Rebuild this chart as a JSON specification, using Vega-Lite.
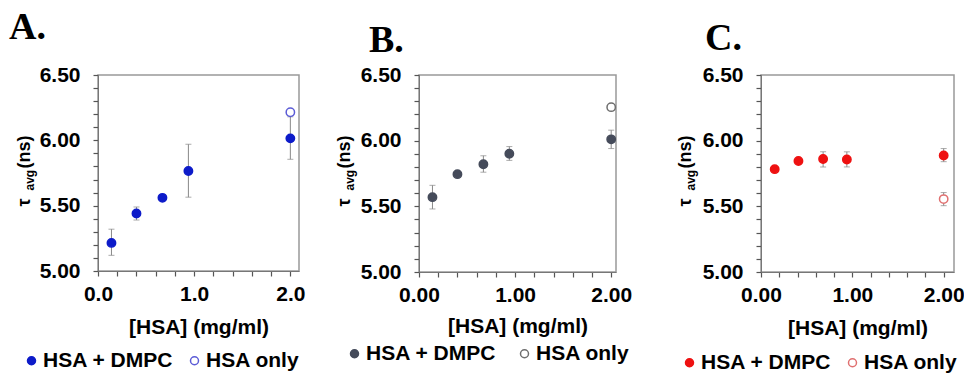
{
  "$schema": "https://vega.github.io/schema/vega-lite/v6.json",
  "padding": {"left": 8, "top": 8, "right": 2, "bottom": 4},
  "background": "white",
  "config": {
    "view": {"stroke": "#999", "strokeWidth": 1.5},
    "axis": {"labelFont": "Liberation Sans", "labelFontWeight": "bold", "labelFontSize": 21, "labelColor": "#000",
             "titleFont": "Liberation Sans", "titleFontWeight": "bold", "titleFontSize": 21, "titleColor": "#000",
             "domainColor": "#777", "tickColor": "#555", "tickSize": 5, "tickWidth": 1.2, "ticks": true, "grid": false,
             "labelOverlap": false, "labelFlush": false, "labelBound": false},
    "legend": {"labelFont": "Liberation Sans", "labelFontWeight": "bold", "labelFontSize": 21, "labelColor": "#000"},
    "title": {"font": "Liberation Serif", "fontWeight": "bold", "fontSize": 38, "color": "#000", "anchor": "start", "frame": "group", "baseline": "alphabetic"}
  },
  "datasets": {
    "a": [
      {"conc": 0.14, "tau": 5.215, "lo": 5.12, "hi": 5.32, "series": "HSA + DMPC"},
      {"conc": 0.40, "tau": 5.44, "lo": 5.39, "hi": 5.49, "series": "HSA + DMPC"},
      {"conc": 0.67, "tau": 5.56, "lo": 5.54, "hi": 5.58, "series": "HSA + DMPC"},
      {"conc": 0.94, "tau": 5.765, "lo": 5.565, "hi": 5.97, "series": "HSA + DMPC"},
      {"conc": 2.0, "tau": 6.015, "lo": 5.855, "hi": 6.18, "series": "HSA + DMPC"},
      {"conc": 2.0, "tau": 6.215, "lo": null, "hi": null, "series": "HSA only"}
    ],
    "b": [
      {"conc": 0.14, "tau": 5.57, "lo": 5.48, "hi": 5.66, "series": "HSA + DMPC"},
      {"conc": 0.40, "tau": 5.745, "lo": 5.73, "hi": 5.76, "series": "HSA + DMPC"},
      {"conc": 0.67, "tau": 5.82, "lo": 5.76, "hi": 5.885, "series": "HSA + DMPC"},
      {"conc": 0.94, "tau": 5.9, "lo": 5.85, "hi": 5.955, "series": "HSA + DMPC"},
      {"conc": 2.0, "tau": 6.01, "lo": 5.94, "hi": 6.08, "series": "HSA + DMPC"},
      {"conc": 2.0, "tau": 6.255, "lo": null, "hi": null, "series": "HSA only"}
    ],
    "c": [
      {"conc": 0.15, "tau": 5.783, "lo": 5.77, "hi": 5.8, "series": "HSA + DMPC"},
      {"conc": 0.41, "tau": 5.845, "lo": 5.83, "hi": 5.86, "series": "HSA + DMPC"},
      {"conc": 0.68, "tau": 5.86, "lo": 5.8, "hi": 5.915, "series": "HSA + DMPC"},
      {"conc": 0.94, "tau": 5.857, "lo": 5.8, "hi": 5.915, "series": "HSA + DMPC"},
      {"conc": 2.0, "tau": 5.887, "lo": 5.84, "hi": 5.94, "series": "HSA + DMPC"},
      {"conc": 2.0, "tau": 5.555, "lo": 5.505, "hi": 5.605, "series": "HSA only"}
    ]
  },
  "spacing": 28,
  "resolve": {
    "scale": {"x": "independent", "y": "independent", "fill": "independent", "stroke": "independent"},
    "axis": {"x": "independent", "y": "independent"},
    "legend": {"fill": "independent", "stroke": "independent"}
  },
  "hconcat": [
    {
      "width": 201, "height": 196,
      "title": {"text": "A.", "dx": -89, "offset": 17},
      "data": {"name": "a"},
      "resolve": {"axis": {"y": "independent"}},
      "encoding": {
        "x": {"field": "conc", "type": "quantitative", "scale": {"domain": [0, 2.09], "nice": false, "zero": false},
              "axis": {"values": [0, 0.2, 0.4, 0.6, 0.8, 1.0, 1.2, 1.4, 1.6, 1.8, 2.0], "labelExpr": "abs(datum.value - round(datum.value)) < 0.01 ? format(datum.value, '.1f') : ''", "title": "[HSA] (mg/ml)", "labelPadding": 7, "titlePadding": 12, "labelOverlap": false, "labelFlush": false, "labelBound": false, "ticks": true, "tickSize": 5}}
      },
      "layer": [
        {
          "mark": {"type": "rule", "color": "#888", "strokeWidth": 1},
          "encoding": {
            "y": {"field": "lo", "type": "quantitative", "scale": {"domain": [5, 6.5], "nice": false, "zero": false},
                  "axis": {"orient": "left", "title": "avg", "labels": false, "ticks": false, "domain": false, "titleFontSize": 12, "titleAngle": 270, "titleAlign": "left", "titleBaseline": "alphabetic", "titleX": -65, "titleY": 115}},
            "y2": {"field": "hi"}
          }
        },
        {
          "mark": {"type": "tick", "orient": "horizontal", "size": 6, "thickness": 1, "color": "#888"},
          "encoding": {"y": {"field": "lo", "type": "quantitative", "axis": null}}
        },
        {
          "mark": {"type": "tick", "orient": "horizontal", "size": 6, "thickness": 1, "color": "#888"},
          "encoding": {"y": {"field": "hi", "type": "quantitative", "axis": null}}
        },
        {
          "mark": {"type": "point", "size": 70, "strokeWidth": 1.5, "opacity": 1},
          "encoding": {
            "y": {"field": "tau", "type": "quantitative",
                  "axis": {"orient": "left", "values": [5, 5.1, 5.2, 5.3, 5.4, 5.5, 5.6, 5.7, 5.8, 5.9, 6, 6.1, 6.2, 6.3, 6.4, 6.5], "labelExpr": "round(datum.value*10) % 5 == 0 ? format(datum.value, '.2f') : ''", "labelPadding": 13, "labelOverlap": false, "ticks": true, "tickSize": 5,
                           "title": "τ\u00a0\u00a0\u00a0\u00a0\u00a0\u00a0(ns)", "titleFontSize": 18, "titleAngle": 270, "titleAlign": "left", "titleBaseline": "alphabetic", "titleX": -69, "titleY": 131}},
            "fill": {"field": "series", "type": "nominal", "scale": {"domain": ["HSA + DMPC", "HSA only"], "range": ["#0d1bc9", "#ffffff"]},
                     "legend": {"orient": "none", "legendX": -77, "legendY": 275, "direction": "horizontal", "title": null, "padding": 0, "symbolSize": 64, "symbolStrokeWidth": 1.5, "labelOffset": 1, "columnPadding": 10}},
            "stroke": {"field": "series", "type": "nominal", "scale": {"domain": ["HSA + DMPC", "HSA only"], "range": ["#0d1bc9", "#5b5bd6"]},
                     "legend": {"orient": "none", "legendX": -77, "legendY": 275, "direction": "horizontal", "title": null, "padding": 0, "symbolSize": 64, "symbolStrokeWidth": 1.5, "labelOffset": 1, "columnPadding": 10}}
          }
        }
      ]
    },
    {
      "width": 197, "height": 197,
      "title": {"text": "B.", "dx": -50, "offset": 4},
      "data": {"name": "b"},
      "resolve": {"axis": {"y": "independent"}},
      "encoding": {
        "x": {"field": "conc", "type": "quantitative", "scale": {"domain": [0, 2.05], "nice": false, "zero": false},
              "axis": {"values": [0, 0.2, 0.4, 0.6, 0.8, 1.0, 1.2, 1.4, 1.6, 1.8, 2.0], "labelExpr": "abs(datum.value - round(datum.value)) < 0.01 ? format(datum.value, '.2f') : ''", "title": "[HSA] (mg/ml)", "labelPadding": 7, "titlePadding": 10, "labelOverlap": false, "labelFlush": false, "labelBound": false, "ticks": true, "tickSize": 5}}
      },
      "layer": [
        {
          "mark": {"type": "rule", "color": "#888", "strokeWidth": 1},
          "encoding": {
            "y": {"field": "lo", "type": "quantitative", "scale": {"domain": [5, 6.5], "nice": false, "zero": false},
                  "axis": {"orient": "left", "title": "avg", "labels": false, "ticks": false, "domain": false, "titleFontSize": 12, "titleAngle": 270, "titleAlign": "left", "titleBaseline": "alphabetic", "titleX": -66, "titleY": 115}},
            "y2": {"field": "hi"}
          }
        },
        {
          "mark": {"type": "tick", "orient": "horizontal", "size": 6, "thickness": 1, "color": "#888"},
          "encoding": {"y": {"field": "lo", "type": "quantitative", "axis": null}}
        },
        {
          "mark": {"type": "tick", "orient": "horizontal", "size": 6, "thickness": 1, "color": "#888"},
          "encoding": {"y": {"field": "hi", "type": "quantitative", "axis": null}}
        },
        {
          "mark": {"type": "point", "size": 70, "strokeWidth": 1.5, "opacity": 1},
          "encoding": {
            "y": {"field": "tau", "type": "quantitative",
                  "axis": {"orient": "left", "values": [5, 5.1, 5.2, 5.3, 5.4, 5.5, 5.6, 5.7, 5.8, 5.9, 6, 6.1, 6.2, 6.3, 6.4, 6.5], "labelExpr": "round(datum.value*10) % 5 == 0 ? format(datum.value, '.2f') : ''", "labelPadding": 13, "labelOverlap": false, "ticks": true, "tickSize": 5,
                           "title": "τ\u00a0\u00a0\u00a0\u00a0\u00a0\u00a0(ns)", "titleFontSize": 18, "titleAngle": 270, "titleAlign": "left", "titleBaseline": "alphabetic", "titleX": -70, "titleY": 131}},
            "fill": {"field": "series", "type": "nominal", "scale": {"domain": ["HSA + DMPC", "HSA only"], "range": ["#454b5a", "#ffffff"]},
                     "legend": {"orient": "none", "legendX": -83, "legendY": 260, "direction": "horizontal", "title": null, "padding": 8, "symbolSize": 64, "symbolStrokeWidth": 1.5, "labelOffset": 1, "columnPadding": 17}},
            "stroke": {"field": "series", "type": "nominal", "scale": {"domain": ["HSA + DMPC", "HSA only"], "range": ["#454b5a", "#6e6e6e"]},
                     "legend": {"orient": "none", "legendX": -83, "legendY": 260, "direction": "horizontal", "title": null, "padding": 8, "symbolSize": 64, "symbolStrokeWidth": 1.5, "labelOffset": 1, "columnPadding": 17}}
          }
        }
      ]
    },
    {
      "width": 193, "height": 197,
      "title": {"text": "C.", "dx": -56, "offset": 6},
      "data": {"name": "c"},
      "resolve": {"axis": {"y": "independent"}},
      "encoding": {
        "x": {"field": "conc", "type": "quantitative", "scale": {"domain": [0, 2.113], "nice": false, "zero": false},
              "axis": {"values": [0, 0.2, 0.4, 0.6, 0.8, 1.0, 1.2, 1.4, 1.6, 1.8, 2.0], "labelExpr": "abs(datum.value - round(datum.value)) < 0.01 ? format(datum.value, '.2f') : ''", "title": "[HSA] (mg/ml)", "labelPadding": 7, "titlePadding": 12, "labelOverlap": false, "labelFlush": false, "labelBound": false, "ticks": true, "tickSize": 5}}
      },
      "layer": [
        {
          "mark": {"type": "rule", "color": "#888", "strokeWidth": 1},
          "encoding": {
            "y": {"field": "lo", "type": "quantitative", "scale": {"domain": [5, 6.5], "nice": false, "zero": false},
                  "axis": {"orient": "left", "title": "avg", "labels": false, "ticks": false, "domain": false, "titleFontSize": 12, "titleAngle": 270, "titleAlign": "left", "titleBaseline": "alphabetic", "titleX": -67, "titleY": 115}},
            "y2": {"field": "hi"}
          }
        },
        {
          "mark": {"type": "tick", "orient": "horizontal", "size": 6, "thickness": 1, "color": "#888"},
          "encoding": {"y": {"field": "lo", "type": "quantitative", "axis": null}}
        },
        {
          "mark": {"type": "tick", "orient": "horizontal", "size": 6, "thickness": 1, "color": "#888"},
          "encoding": {"y": {"field": "hi", "type": "quantitative", "axis": null}}
        },
        {
          "mark": {"type": "point", "size": 70, "strokeWidth": 1.5, "opacity": 1},
          "encoding": {
            "y": {"field": "tau", "type": "quantitative",
                  "axis": {"orient": "left", "values": [5, 5.1, 5.2, 5.3, 5.4, 5.5, 5.6, 5.7, 5.8, 5.9, 6, 6.1, 6.2, 6.3, 6.4, 6.5], "labelExpr": "round(datum.value*10) % 5 == 0 ? format(datum.value, '.2f') : ''", "labelPadding": 13, "labelOverlap": false, "ticks": true, "tickSize": 5,
                           "title": "τ\u00a0\u00a0\u00a0\u00a0\u00a0\u00a0(ns)", "titleFontSize": 18, "titleAngle": 270, "titleAlign": "left", "titleBaseline": "alphabetic", "titleX": -71, "titleY": 131}},
            "fill": {"field": "series", "type": "nominal", "scale": {"domain": ["HSA + DMPC", "HSA only"], "range": ["#ee1111", "#ffffff"]},
                     "legend": {"orient": "none", "legendX": -93, "legendY": 266, "direction": "horizontal", "title": null, "padding": 11, "symbolSize": 64, "symbolStrokeWidth": 1.5, "labelOffset": 1, "columnPadding": 10}},
            "stroke": {"field": "series", "type": "nominal", "scale": {"domain": ["HSA + DMPC", "HSA only"], "range": ["#ee1111", "#e07070"]},
                     "legend": {"orient": "none", "legendX": -93, "legendY": 266, "direction": "horizontal", "title": null, "padding": 11, "symbolSize": 64, "symbolStrokeWidth": 1.5, "labelOffset": 1, "columnPadding": 10}}
          }
        }
      ]
    }
  ]
}
